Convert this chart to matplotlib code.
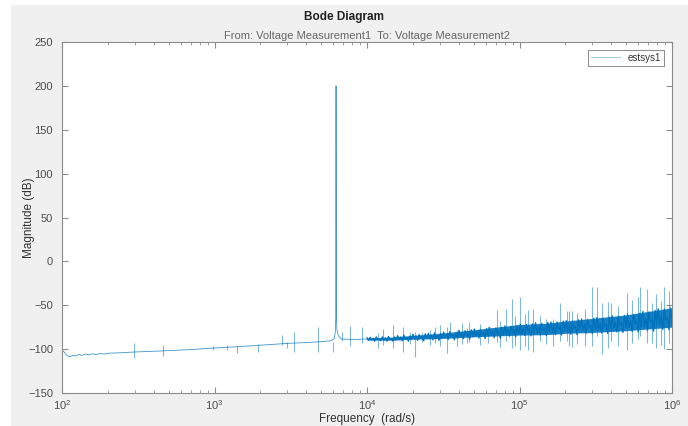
import numpy as np
import matplotlib
matplotlib.use("Agg")
import matplotlib.pyplot as plt
from matplotlib.patches import Rectangle

plt.rcParams["font.family"] = ["Liberation Sans", "DejaVu Sans"]
plt.rcParams["mathtext.default"] = "regular"

# magnitude trend of estsys1 up to 1e4 rad/s (rad/s, dB)
freq_trend = [100, 103, 108, 113, 118, 123, 129, 135, 142, 150, 158, 167, 177, 190,
              205, 230, 296, 459, 700, 1000, 1500, 2000, 3000, 4000, 5000, 5800,
              6100, 6200, 6250, 6266, 6290, 6350, 6500, 6800, 8000, 1e4]
mag_trend = [-101, -103, -107.5, -108.5, -107, -107.8, -106, -107.2, -105.6, -106.6,
             -105.3, -106.1, -105, -105.6, -104.6, -104.3, -103.3, -102, -100.5, -98.7,
             -97, -95.5, -93.5, -92.5, -91.5, -90.5, -88, -80, -60, 200, -60, -78,
             -85, -88.5, -89, -88.5]

# dense part of the noise above 1e4 rad/s: centre and half width (dB)
band_freq = [1e4, 1.5e4, 2e4, 3e4, 5e4, 7e4, 1e5, 1.5e5, 2e5, 3e5, 5e5, 7e5, 1e6]
band_mid = [-88.5, -88, -86.5, -85, -82, -80, -78, -77, -75, -73, -70, -67, -64]
band_half = [1.2, 1.8, 2.2, 3, 4, 5, 6, 6.5, 7, 8, 9, 10, 11]

# noisy response from 1e4 to 1e6 rad/s, 10 samples per 0.1 decade (dB)
noise_mag = [
    -87, -90, -86.5, -89.5, -87.5, -91, -86, -89, -88, -90.5,
    -86, -90, -87, -91, -85.5, -89, -88.5, -91, -86, -89.5,
    -84.5, -89, -86, -90.5, -84, -88, -87, -91, -85, -89,
    -83, -88.5, -85, -90, -83.5, -87.5, -86, -90.5, -82.5, -88,
    -82, -88, -84, -89.5, -81.5, -86.5, -85, -90, -82, -87.5,
    -80.5, -87, -83, -89, -80, -86, -84, -89.5, -81, -87.5,
    -78.5, -86, -81, -88, -79, -84.5, -82, -88.5, -78, -86,
    -77, -85, -80, -87.5, -77.5, -83.5, -81, -88, -76.5, -85,
    -75.5, -84.5, -79, -87, -76, -82.5, -80, -87.5, -75, -84,
    -73.5, -83, -77, -85.5, -74, -81, -78.5, -86, -73, -82.5,
    -71.5, -82, -76, -84.5, -72, -80, -77, -85, -71, -81.5,
    -70, -81.5, -75, -84, -70.5, -79, -76, -84.5, -69.5, -80.5,
    -69, -80.5, -74, -83.5, -69, -78, -75, -84, -68, -79.5,
    -67.5, -79.5, -73, -83, -68, -77, -74, -83.5, -66.5, -78.5,
    -65.5, -78.5, -71.5, -82, -66, -75.5, -72.5, -82.5, -65, -77,
    -64, -77.5, -70.5, -81.5, -64.5, -74.5, -71.5, -82, -63.5, -76.5,
    -62, -76.5, -69, -80.5, -62.5, -73, -70, -81, -61.5, -75,
    -60, -75.5, -67.5, -80, -60.5, -71.5, -68.5, -80.5, -59, -74,
    -57, -74, -65.5, -79, -57.5, -69.5, -66.5, -79.5, -56, -72,
    -54, -72, -63, -77.5, -54.5, -67, -64, -78, -53, -70,
]

# isolated spikes: frequency, top and bottom (dB)
spike_freq = [296, 459, 980, 1200, 1400, 1930, 2770, 2990, 3320, 4780, 5950, 6860,
              7740, 9300, 1.18e4, 1.27e4, 1.48e4, 1.72e4, 1.9e4, 2.07e4, 2.3e4,
              2.6e4, 2.8e4, 3.0e4, 3.35e4, 3.5e4, 3.9e4, 4.2e4, 4.5e4, 4.7e4, 5.5e4,
              6.2e4, 7.1e4, 7.5e4, 8.2e4, 8.9e4, 9.3e4, 1.0e5, 1.08e5, 1.14e5, 1.23e5,
              1.37e5, 1.5e5, 1.66e5, 1.85e5, 2.05e5, 2.1e5, 2.2e5, 2.4e5, 2.7e5, 3.0e5,
              3.2e5, 3.5e5, 3.8e5, 4.0e5, 4.4e5, 5.05e5, 5.5e5, 5.95e5, 6.2e5, 6.9e5,
              7.4e5, 7.8e5, 8.5e5, 8.9e5, 9.5e5]
spike_hi = [-93, -95, -96, -95, -97, -94, -84, -92, -80, -75, -92, -80,
            -74, -75, -82, -77, -72, -75, -80, -80, -80,
            -78, -75, -72, -75, -69, -78, -70, -76, -69, -71,
            -74, -55, -68, -54, -43, -62, -41, -60, -55, -54,
            -62, -66, -66, -48, -57, -57, -57, -59, -54, -29,
            -29, -48, -46, -48, -51, -36, -44, -41, -29, -31,
            -48, -37, -45, -29, -34]
spike_lo = [-110, -108, -101, -101, -104, -103, -95, -99, -103, -103, -103, -91,
            -97, -93, -99, -95, -99, -103, -94, -109, -92,
            -95, -93, -97, -104, -85, -96, -94, -93, -92, -95,
            -93, -92, -98, -91, -99, -96, -101, -97, -101, -103,
            -91, -94, -96, -91, -91, -96, -98, -94, -96, -96,
            -85, -105, -99, -91, -96, -101, -93, -88, -85, -93,
            -93, -99, -95, -100, -93]

line_color = "#0072BD"
text_color = "#4d4d4d"
axis_color = "#8c8c8c"

fig = plt.figure(figsize=(6.88, 4.26), dpi=100, facecolor="white")
fig.patches.append(Rectangle((11 / 688, 0), 1, 1 - 5 / 426, transform=fig.transFigure,
                             facecolor="#f0f0f0", edgecolor="none", zorder=-10))
ax = fig.add_axes([62 / 688, 33 / 426, 610 / 688, 351 / 426])

noise_freq = np.logspace(4, 6, len(noise_mag))
band_mid = np.array(band_mid)
band_half = np.array(band_half)
ax.vlines(spike_freq, spike_lo, spike_hi, color=line_color, linewidth=0.8, alpha=0.5)
ax.fill_between(band_freq, band_mid - band_half, band_mid + band_half,
                color=line_color, linewidth=0, alpha=0.9)
ax.plot(noise_freq, noise_mag, color=line_color, linewidth=0.9)
ax.plot(freq_trend, mag_trend, color=line_color, linewidth=0.6, alpha=0.75,
        label="estsys1")

ax.set_xscale("log")
ax.set_xlim(1e2, 1e6)
ax.set_ylim(-150, 250)
ax.set_yticks(np.arange(-150, 251, 50))

for side in ax.spines.values():
    side.set_color(axis_color)
    side.set_linewidth(0.8)
ax.tick_params(which="both", direction="in", top=True, right=True,
               colors=axis_color, labelcolor=text_color, labelsize=8)
ax.tick_params(which="major", length=4)
ax.tick_params(which="minor", length=2.5)
ax.tick_params(axis="y", pad=6.5)

ax.set_xlabel("Frequency  (rad/s)", fontsize=8.5, color="#333333", labelpad=1)
ax.set_ylabel("Magnitude (dB)", fontsize=8.5, color="#333333")
ax.yaxis.set_label_coords(-0.044, 0.5)
ax.set_title("From: Voltage Measurement1  To: Voltage Measurement2",
             fontsize=8, color="#666666", pad=2)
fig.text(0.5, 1 - 17 / 426, "Bode Diagram", ha="center", va="center",
         fontsize=8.5, fontweight="bold", color="#222222")

leg = ax.legend(loc="upper right", fontsize=7, frameon=True, fancybox=False,
                handlelength=3, borderpad=0.3, borderaxespad=0.8)
leg.get_frame().set_edgecolor("#555555")
leg.get_frame().set_linewidth(0.6)
for t in leg.get_texts():
    t.set_color("#333333")
for h in leg.get_lines():
    h.set_color("#6aa8c8")

fig.savefig("out.png", dpi=100, facecolor=fig.get_facecolor())
